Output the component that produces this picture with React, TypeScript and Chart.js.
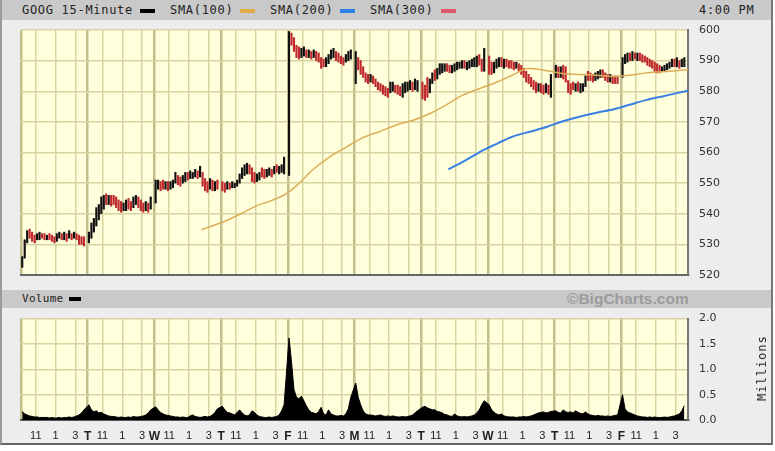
import React, { useEffect, useRef } from 'react';
import { Chart, registerables } from 'chart.js';

Chart.register(...registerables);

// ---- axis / calendar data ----
const dayLetters = ['M', 'T', 'W', 'T', 'F', 'M', 'T', 'W', 'T', 'F'];
const hourLabels = ['11', '1', '3'];
const hourSlots = [6, 14, 22];
const slotsPerDay = 27;
const barsPerDay = 26;
const priceTicks = [520, 530, 540, 550, 560, 570, 580, 590, 600];
const volumeTicks = [0, 0.5, 1, 1.5, 2];

// ---- 15-minute bars (low / high / up=1 down=0), one line per day ----
const barLow = [
  522.5, 525.5, 530.5, 532, 531, 530.5, 531.5, 531.5, 532, 531.5, 531.5, 531.5, 531, 530.5, 531, 532, 531.5, 531.5, 531, 532, 531.5, 532, 531.5, 530, 530, 529.5,
  530.5, 532, 534, 536, 538, 540, 541.5, 543, 543, 542.5, 543, 542, 541, 540.5, 541, 541, 541.5, 541, 542, 543, 542, 541, 540.5, 541, 540.5, 541.5,
  543.5, 548, 547.5, 548, 548, 547.5, 548, 548.5, 550, 549.5, 549, 550, 550.5, 551, 551.5, 551.5, 552, 551.5, 552, 549, 547.5, 547, 548, 547.5, 547.5, 548,
  547.5, 547, 548, 548, 548.5, 548.5, 549, 550, 551.5, 552.5, 553, 553, 550.5, 550, 550.5, 551, 552, 551.5, 552, 552.5, 552, 553, 553.5, 553, 553.5, 553,
  552.5, 595, 593, 591, 590.5, 591, 591.5, 591, 591, 590.5, 591, 590, 589.5, 587.5, 588, 588, 589, 590.5, 591, 590, 589.5, 589, 588.5, 589.5, 590, 590.5,
  582.5, 587, 585.5, 584.5, 583, 582.5, 583, 582.5, 581.5, 580.5, 580, 579, 578.5, 578, 579.5, 580, 579.5, 579, 578.5, 578, 579.5, 580, 580.5, 580, 580.5, 580,
  577.5, 577, 578, 579.5, 582.5, 583.5, 584, 585.5, 586, 586.5, 586.5, 586, 586, 586.5, 587, 587.5, 587.5, 587.5, 587, 587.5, 588, 588, 588, 588.5, 586.5, 586.5,
  585.5, 585.5, 586, 587.5, 588, 588, 587.5, 588, 587.5, 587.5, 587, 587.5, 586.5, 585.5, 584.5, 583, 582.5, 581.5, 580.5, 579.5, 580, 579.5, 579, 579.5, 579, 578,
  584.5, 584.5, 584.5, 584, 583, 579.5, 579, 580.5, 580, 580, 579.5, 580, 581.5, 583.5, 583.5, 583, 583.5, 584, 584.5, 584.5, 583.5, 583, 583, 582.5, 582.5, 582.5,
  584.5, 589, 589.5, 590, 590, 590.5, 590, 590, 589.5, 589.5, 588.5, 588, 587.5, 586.5, 586, 586, 586.5, 586.5, 587, 587.5, 588, 588, 588, 587.5, 588, 588,
];
const barHigh = [
  526, 531.5, 534.5, 535, 534, 533, 533.5, 534, 533.5, 533.5, 533, 533.5, 533, 532.5, 533.5, 534, 533.5, 534, 533.5, 534.5, 533.5, 534, 533.5, 533, 532.5, 532.5,
  534, 537, 538.5, 542, 543, 545.5, 546, 546.5, 546, 546, 546, 545.5, 544.5, 544, 543.5, 544.5, 545, 544, 545.5, 546, 545.5, 544.5, 543.5, 544, 543.5, 545.5,
  551, 551, 550.5, 551, 550.5, 550.5, 550.5, 551, 553.5, 552.5, 552, 552.5, 553.5, 553.5, 554, 553.5, 554.5, 554, 555.5, 553.5, 551.5, 550.5, 551.5, 551, 550.5, 551,
  550.5, 550, 550.5, 550, 550.5, 550, 551, 553, 555, 556, 556.5, 556, 555, 553.5, 553, 553.5, 555, 554.5, 554.5, 555, 554.5, 555.5, 556, 555.5, 556, 558.5,
  599.5, 599, 597.5, 595, 594.5, 594, 594.5, 593.5, 593.5, 593, 593.5, 593, 592.5, 591, 590.5, 591, 592, 593.5, 594, 593, 592.5, 591.5, 591, 592, 593, 593.5,
  593, 591, 590, 588, 586, 585.5, 585.5, 585, 584, 583, 582.5, 582, 581.5, 581, 583, 583, 582, 582, 581.5, 582.5, 583, 583, 583.5, 583, 584, 583.5,
  583, 582, 584.5, 584, 586, 587, 587.5, 589, 589, 589, 589, 588.5, 588.5, 589, 589.5, 589.5, 590, 590, 589.5, 590, 590.5, 591, 591.5, 592, 590.5, 594,
  591.5, 589.5, 589.5, 590.5, 591, 591, 590.5, 590.5, 590, 590, 589.5, 589.5, 589, 588.5, 587.5, 586.5, 585.5, 584.5, 583.5, 583, 582.5, 582.5, 582, 582.5, 582, 585.5,
  588.5, 588, 588, 588.5, 588, 583.5, 582.5, 583, 582.5, 583, 582.5, 582.5, 585, 586.5, 586, 585.5, 586, 586.5, 587, 587, 586, 585.5, 585.5, 585, 585, 585,
  591, 592, 592.5, 592.5, 593, 592.5, 592.5, 592.5, 592, 591.5, 591, 590.5, 590, 589.5, 589, 588.5, 588, 588.5, 589, 589.5, 590.5, 590.5, 591, 590, 590.5, 591,
];
const barUp = [
  1, 1, 1, 0, 0, 0, 1, 1, 0, 0, 1, 0, 0, 0, 1, 1, 0, 1, 0, 1, 0, 1, 0, 0, 0, 0,
  1, 1, 1, 1, 1, 1, 1, 0, 1, 0, 0, 0, 0, 0, 1, 1, 0, 0, 1, 1, 0, 0, 0, 1, 0, 1,
  1, 1, 0, 0, 1, 0, 1, 1, 1, 0, 0, 1, 1, 0, 1, 1, 1, 0, 1, 0, 0, 0, 1, 0, 1, 0,
  0, 0, 1, 0, 1, 1, 1, 1, 1, 1, 1, 0, 0, 0, 1, 1, 0, 0, 1, 1, 0, 1, 0, 1, 1, 1,
  1, 0, 0, 0, 0, 1, 1, 0, 1, 0, 1, 0, 0, 0, 0, 1, 1, 1, 1, 0, 0, 0, 0, 1, 1, 1,
  1, 0, 0, 0, 0, 0, 1, 0, 0, 0, 0, 0, 0, 0, 1, 1, 0, 0, 0, 1, 1, 1, 1, 0, 1, 1,
  0, 0, 0, 1, 1, 0, 1, 1, 1, 1, 0, 0, 1, 1, 1, 1, 1, 0, 1, 1, 1, 1, 1, 0, 0, 1,
  0, 0, 1, 1, 1, 0, 1, 0, 0, 0, 0, 1, 0, 0, 0, 0, 0, 0, 0, 0, 1, 0, 0, 1, 0, 1,
  1, 0, 1, 0, 0, 0, 0, 0, 1, 0, 1, 1, 1, 0, 0, 0, 1, 1, 1, 0, 0, 0, 1, 0, 0, 0,
  1, 1, 1, 0, 1, 0, 1, 0, 0, 0, 0, 0, 0, 0, 0, 0, 1, 1, 1, 1, 1, 0, 1, 0, 1, 1,
];

// ---- volume per bar (millions) ----
const volume = [
  0.17, 0.12, 0.1, 0.08, 0.07, 0.06, 0.06, 0.05, 0.05, 0.05, 0.05, 0.04, 0.05, 0.04, 0.04, 0.05, 0.04, 0.05, 0.05, 0.06, 0.05, 0.06, 0.08, 0.1, 0.14, 0.2,
  0.3, 0.2, 0.16, 0.18, 0.14, 0.15, 0.12, 0.1, 0.08, 0.07, 0.07, 0.06, 0.05, 0.06, 0.05, 0.05, 0.06, 0.05, 0.07, 0.06, 0.06, 0.07, 0.08, 0.1, 0.14, 0.2,
  0.26, 0.2, 0.15, 0.12, 0.1, 0.09, 0.08, 0.07, 0.06, 0.06, 0.05, 0.06, 0.05, 0.05, 0.08, 0.1, 0.07, 0.06, 0.05, 0.06, 0.07, 0.06, 0.07, 0.1, 0.15, 0.22,
  0.27, 0.2, 0.15, 0.14, 0.12, 0.1, 0.15, 0.2, 0.14, 0.1, 0.08, 0.1, 0.18, 0.15, 0.1, 0.07, 0.06, 0.05, 0.05, 0.06, 0.05, 0.06, 0.07, 0.1, 0.18, 0.3,
  1.62, 1.15, 0.6, 0.45, 0.42, 0.47, 0.38, 0.28, 0.2, 0.15, 0.14, 0.12, 0.17, 0.25, 0.12, 0.1, 0.2, 0.12, 0.1, 0.08, 0.08, 0.09, 0.08, 0.12, 0.22, 0.45,
  0.73, 0.45, 0.3, 0.18, 0.12, 0.1, 0.1, 0.09, 0.08, 0.09, 0.1, 0.08, 0.07, 0.08, 0.07, 0.08, 0.07, 0.06, 0.06, 0.07, 0.06, 0.07, 0.08, 0.1, 0.14, 0.18,
  0.25, 0.27, 0.24, 0.22, 0.2, 0.2, 0.17, 0.16, 0.14, 0.11, 0.1, 0.08, 0.07, 0.12, 0.08, 0.07, 0.06, 0.07, 0.06, 0.07, 0.08, 0.1, 0.14, 0.2, 0.3, 0.38,
  0.3, 0.2, 0.15, 0.12, 0.1, 0.12, 0.08, 0.07, 0.06, 0.06, 0.06, 0.05, 0.06, 0.06, 0.07, 0.06, 0.07, 0.08, 0.1, 0.12, 0.14, 0.15, 0.16, 0.14, 0.15, 0.17,
  0.18, 0.15, 0.14, 0.2, 0.16, 0.15, 0.16, 0.14, 0.18, 0.15, 0.13, 0.12, 0.16, 0.12, 0.1, 0.09, 0.08, 0.09, 0.08, 0.08, 0.07, 0.08, 0.07, 0.08, 0.09, 0.1,
  0.5, 0.22, 0.16, 0.14, 0.12, 0.1, 0.08, 0.07, 0.06, 0.06, 0.05, 0.06, 0.05, 0.06, 0.05, 0.05, 0.05, 0.06, 0.05, 0.06, 0.07, 0.08, 0.1, 0.12, 0.18, 0.28,
];

// ---- moving averages (time slot, value) ----
const sma100Slot = [73, 82, 89, 95, 101, 107, 112, 118, 125, 132, 138, 145, 152, 159, 166, 172, 179, 186, 193, 199, 205, 213, 219, 226, 233, 240, 247, 253, 260, 270];
const sma100 = [534.8, 537.4, 540.0, 542.5, 544.2, 546.3, 549.5, 554.3, 558.6, 561.9, 564.7, 566.8, 569.0, 570.6, 572.9, 575.5, 578.8, 581.0, 583.1, 585.3, 587.4, 586.7, 585.8, 585.5, 585.2, 584.8, 585.3, 586.0, 586.4, 587.0];
const sma200Slot = [173, 179, 186, 193, 199, 206, 213, 219, 226, 233, 240, 246, 253, 260, 270];
const sma200 = [554.5, 557.0, 560.3, 563.0, 565.2, 566.8, 568.4, 570.1, 571.7, 573.0, 574.1, 575.5, 577.1, 578.4, 580.2];

// ---- derived helpers ----
const totalSlots = dayLetters.length * slotsPerDay;
const gridSlots: number[] = [];
dayLetters.forEach((_, d) => {
  gridSlots.push(d * slotsPerDay);
  hourSlots.forEach((h) => gridSlots.push(d * slotsPerDay + h));
});
const slotOf = (k: number) => Math.floor(k / barsPerDay) * slotsPerDay + (k % barsPerDay) + 0.5;
const labelFor = (v: number) => {
  const d = Math.floor(v / slotsPerDay);
  const r = v - d * slotsPerDay;
  if (r === 0) return d === 0 ? '' : dayLetters[d];
  const i = hourSlots.indexOf(r);
  return i >= 0 ? hourLabels[i] : '';
};

const PLOT_BG = '#ffffdc';
const GRID = '#d8d4a2';
const GRID_DAY = '#c3bf8c';

const plotBg = {
  id: 'plotBg',
  beforeDraw(chart: any) {
    const { ctx, chartArea: a } = chart;
    ctx.save();
    ctx.fillStyle = PLOT_BG;
    ctx.fillRect(a.left, a.top, a.right - a.left, a.bottom - a.top);
    ctx.restore();
  },
};

const xGrid = {
  color: (c: any) => (c.tick && c.tick.value % slotsPerDay === 0 ? GRID_DAY : GRID),
  lineWidth: (c: any) => (c.tick && c.tick.value % slotsPerDay === 0 ? 2.5 : 1.5),
  drawTicks: false,
  offset: false,
};

const yFont = { family: 'DejaVu Sans', size: 11 };

export default function App() {
  const priceRef = useRef<HTMLCanvasElement>(null);
  const volRef = useRef<HTMLCanvasElement>(null);

  useEffect(() => {
    const bars = barLow.map((lo, k) => ({ x: slotOf(k), y: [lo, barHigh[k]] }));
    const barColors = barUp.map((u) => (u ? '#111111' : '#bf2a2e'));
    const s100 = sma100.map((v, i) => ({ x: sma100Slot[i], y: v }));
    const s200 = sma200.map((v, i) => ({ x: sma200Slot[i], y: v }));
    const vol = volume.map((v, k) => ({ x: slotOf(k), y: v }));

    const price = new Chart(priceRef.current as HTMLCanvasElement, {
      type: 'bar',
      data: {
        datasets: [
          { type: 'line', data: s200 as any, borderColor: '#3a80e4', borderWidth: 2, pointRadius: 0, tension: 0.3 },
          { type: 'line', data: s100 as any, borderColor: '#dcae58', borderWidth: 1.5, pointRadius: 0, tension: 0.3 },
          { type: 'bar', data: bars as any, backgroundColor: barColors, barThickness: 1.5, grouped: false },
        ] as any,
      },
      options: {
        responsive: false,
        animation: false,
        layout: { padding: { left: 21, top: 30, bottom: 25, right: 0 } },
        plugins: { legend: { display: false }, tooltip: { enabled: false } },
        scales: {
          x: {
            type: 'linear',
            min: 0,
            max: totalSlots,
            offset: false,
            afterBuildTicks: (s: any) => { s.ticks = gridSlots.map((v) => ({ value: v })); },
            ticks: { display: false },
            grid: xGrid as any,
            border: { display: true, color: '#666', width: 2 },
            afterFit: (s: any) => { s.height = 0; },
          },
          y: {
            position: 'right',
            min: 520,
            max: 600,
            afterBuildTicks: (s: any) => { s.ticks = priceTicks.map((v) => ({ value: v })); },
            ticks: { padding: 11, color: '#333', font: yFont },
            grid: { color: GRID, lineWidth: 1.5, drawTicks: false },
            border: { display: true, color: '#777', width: 2 },
            afterFit: (s: any) => { s.width = 87; },
          },
        },
      } as any,
      plugins: [plotBg],
    });

    const vchart = new Chart(volRef.current as HTMLCanvasElement, {
      type: 'line',
      data: {
        datasets: [
          { data: vol as any, borderColor: '#000', backgroundColor: '#000', borderWidth: 1, fill: 'origin', pointRadius: 0, tension: 0 },
        ],
      },
      options: {
        responsive: false,
        animation: false,
        layout: { padding: { left: 21, top: 10, bottom: 0, right: 0 } },
        plugins: { legend: { display: false }, tooltip: { enabled: false } },
        scales: {
          x: {
            type: 'linear',
            min: 0,
            max: totalSlots,
            offset: false,
            afterBuildTicks: (s: any) => { s.ticks = gridSlots.map((v) => ({ value: v })); },
            ticks: {
              autoSkip: false,
              maxRotation: 0,
              minRotation: 0,
              padding: 9,
              color: '#222',
              callback: (v: any) => labelFor(Number(v)),
              font: (c: any) => {
                const lab = c.tick ? labelFor(c.tick.value) : '';
                const isDay = /[A-Z]/.test(lab);
                return { family: 'Liberation Sans', size: isDay ? 12 : 11, weight: isDay ? 'bold' : 'normal' };
              },
            },
            grid: xGrid as any,
            border: { display: true, color: '#555', width: 2 },
            afterFit: (s: any) => { s.height = 31; },
          },
          y: {
            position: 'right',
            min: 0,
            max: 2,
            afterBuildTicks: (s: any) => { s.ticks = volumeTicks.map((v) => ({ value: v })); },
            ticks: { padding: 11, color: '#333', font: yFont, callback: (v: any) => Number(v).toFixed(1) },
            grid: { color: GRID, lineWidth: 1.5, drawTicks: false },
            border: { display: true, color: '#777', width: 2 },
            afterFit: (s: any) => { s.width = 87; },
          },
        },
      } as any,
      plugins: [plotBg],
    });

    return () => {
      price.destroy();
      vchart.destroy();
    };
  }, []);

  const mono: React.CSSProperties = {
    position: 'absolute',
    fontFamily: '"DejaVu Sans Mono", monospace',
    fontSize: 12,
    letterSpacing: 0.7,
    color: '#222',
    lineHeight: '20px',
    top: 0,
    whiteSpace: 'nowrap',
  };
  const sw = (left: number, top: number, color: string, w = 15): React.CSSProperties => ({
    position: 'absolute', left, top, width: w, height: 4, background: color,
  });

  return (
    <div style={{ position: 'fixed', left: 0, top: 0, width: 775, height: 451, background: '#ffffff', overflow: 'hidden' }}>
      <div style={{ position: 'absolute', left: 0, top: 0, width: 769, height: 443, background: '#ededed', borderLeft: '2px solid #9a9a9a', borderRight: '2px solid #777', borderBottom: '2px solid #666' }} />
      <div style={{ position: 'absolute', left: 2, top: 0, width: 769, height: 20, background: '#c9c9c9' }}>
        <span style={{ ...mono, left: 20 }}>GOOG 15-Minute</span>
        <div style={sw(138, 9, '#000')} />
        <span style={{ ...mono, left: 168 }}>SMA(100)</span>
        <div style={sw(238, 9, '#e0ac48')} />
        <span style={{ ...mono, left: 268 }}>SMA(200)</span>
        <div style={sw(338, 9, '#2f7fe8')} />
        <span style={{ ...mono, left: 368 }}>SMA(300)</span>
        <div style={sw(439, 9, '#e05868')} />
        <span style={{ ...mono, left: 697 }}>4:00 PM</span>
      </div>
      <div style={{ position: 'absolute', left: 2, top: 290, width: 769, height: 18, background: '#c9c9c9' }}>
        <span style={{ ...mono, left: 20, lineHeight: '18px', fontSize: 11, letterSpacing: 0.3 }}>Volume</span>
        <div style={sw(67, 7, '#000', 12)} />
        <span style={{ position: 'absolute', left: 565, top: 0, lineHeight: '18px', fontFamily: '"Liberation Sans", Arial, sans-serif', fontWeight: 'bold', fontSize: 15.5, color: '#9c9c9c', whiteSpace: 'nowrap' }}>©BigCharts.com</span>
      </div>
      <canvas ref={priceRef} width={775} height={300} style={{ position: 'absolute', left: 0, top: 0, width: 775, height: 300 }} />
      <canvas ref={volRef} width={775} height={150} style={{ position: 'absolute', left: 0, top: 301, width: 775, height: 150 }} />
      <div style={{ ...mono, top: 368, left: 762, letterSpacing: 1, lineHeight: '14px', transform: 'translate(-50%, -50%) rotate(-90deg)' }}>Millions</div>
    </div>
  );
}
